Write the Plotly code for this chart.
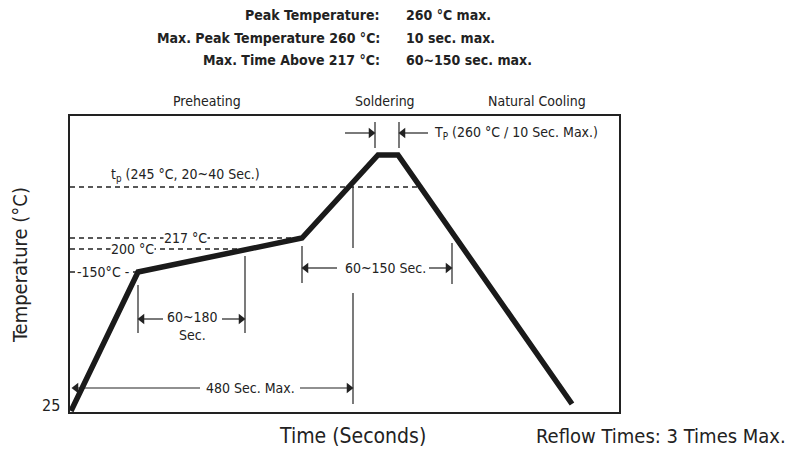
import plotly.graph_objects as go

# Schematic reflow profile (chart units: x = schematic time, y = schematic temperature height)
profile_x = [1, 68, 232, 308, 328, 502]
profile_y = [1, 140, 174, 257, 257, 8]

# Temperature reference levels (dashed lines)
level_labels = ["-150°C -", "200 °C", "217 °C", "t<sub>p</sub> (245 °C, 20~40 Sec.)"]
level_y = [140, 163, 174, 225]
level_x_end = [68, 178, 232, 350]

# Dimension arrows: (head_x, tail_x, y)
arrow_heads = [305, 329, 68, 175, 232, 382, 2, 283]
arrow_tails = [275, 358, 93, 152, 267, 359, 130, 230]
arrow_y = [279, 279, 93, 93, 144, 144, 24, 24]

X_RANGE = [0, 549]
Y_RANGE = [0, 296]

FONT = "DejaVu Sans Condensed, Roboto, sans-serif"
INK = "#222222"

fig = go.Figure()

# Dashed level lines
for xe, yv in zip(level_x_end, level_y):
    fig.add_trace(go.Scatter(x=[0, xe], y=[yv, yv], mode="lines",
                             line=dict(color=INK, width=1.3, dash="5px,4px"),
                             hoverinfo="skip", showlegend=False))

# Vertical marker lines
vlines = [
    (68, 127, 79), (175, 156, 79), (232, 166, 129), (382, 169, 128),
    (283, 225, 164), (283, 119, 8), (305, 290, 264), (329, 290, 264),
]
for xv, y0, y1 in vlines:
    fig.add_trace(go.Scatter(x=[xv, xv], y=[y0, y1], mode="lines",
                             line=dict(color=INK, width=1.2),
                             hoverinfo="skip", showlegend=False))

# Arrows: shaft + triangular head
for hx, tx, yv in zip(arrow_heads, arrow_tails, arrow_y):
    direction = 1 if hx > tx else -1
    fig.add_trace(go.Scatter(x=[tx, hx - direction * 3], y=[yv, yv], mode="lines",
                             line=dict(color=INK, width=1.2),
                             hoverinfo="skip", showlegend=False))
    fig.add_trace(go.Scatter(x=[hx - direction * 4], y=[yv], mode="markers",
                             marker=dict(symbol="triangle-right" if direction > 0 else "triangle-left",
                                         size=9, color=INK, line=dict(width=0)),
                             hoverinfo="skip", showlegend=False))

# Profile
fig.add_trace(go.Scatter(x=profile_x, y=profile_y, mode="lines",
                         line=dict(color="#1a1a1a", width=5.5),
                         hoverinfo="skip", showlegend=False))

ann = []
def txt(x, y, s, size=14, xanchor="center", bold=False, bg=None, angle=0, outside=False):
    d = dict(text=(f"<b>{s}</b>" if bold else s),
             showarrow=False, xanchor=xanchor, yanchor="middle", textangle=angle,
             font=dict(family=FONT, size=size, color=INK))
    if outside:
        d.update(x=x / X_RANGE[1], y=y / Y_RANGE[1], xref="paper", yref="paper")
    else:
        d.update(x=x, y=y, xref="x", yref="y")
    if bg:
        d["bgcolor"] = bg
        d["borderpad"] = 0
    ann.append(d)

# Level labels (white background interrupts dashes)
txt(33, 140, level_labels[0], bg="white")
txt(62, 163, level_labels[1], bg="white")
txt(115, 174, level_labels[2], bg="white")
txt(115, 237, level_labels[3])

# Section labels
txt(137, 311, "Preheating", outside=True)
txt(315, 311, "Soldering", outside=True)
txt(467, 311, "Natural Cooling", outside=True)

# Arrow labels
txt(362, 279, "T<sub>P</sub> (260 °C / 10 Sec. Max.)", xanchor="left")
txt(122, 86, "60~180<br>Sec.")
txt(315, 144, "60~150 Sec.")
txt(180, 24, "480 Sec. Max.", bg="white")

# Header
hdr_left = ["Peak Temperature:", "Max. Peak Temperature 260 °C:", "Max. Time Above 217 °C:"]
hdr_right = ["260 °C max.", "10 sec. max.", "60~150 sec. max."]
hdr_y = [397, 374, 352]
for l, r, yv in zip(hdr_left, hdr_right, hdr_y):
    txt(312, yv, l, xanchor="right", bold=True, outside=True)
    txt(334, yv, r, xanchor="left", bold=True, outside=True)

# Axis titles and misc
txt(-50, 147, "Temperature (°C)", size=20, angle=-90, outside=True)
txt(282, -24, "Time (Seconds)", size=21, outside=True)
txt(464, -24, "Reflow Times: 3 Times Max.", size=20, xanchor="left", outside=True)
txt(-8, 7, "25", size=16, xanchor="right", outside=True)

fig.update_layout(
    width=793, height=441,
    margin=dict(l=62, r=182, t=108, b=37),
    paper_bgcolor="white", plot_bgcolor="white",
    annotations=ann,
    xaxis=dict(range=X_RANGE, showgrid=False, zeroline=False, showticklabels=False,
               ticks="", showline=True, mirror=True, linecolor=INK, linewidth=1.5, fixedrange=True),
    yaxis=dict(range=Y_RANGE, showgrid=False, zeroline=False, showticklabels=False,
               ticks="", showline=True, mirror=True, linecolor=INK, linewidth=1.5, fixedrange=True),
)

fig.write_html("out.html")
